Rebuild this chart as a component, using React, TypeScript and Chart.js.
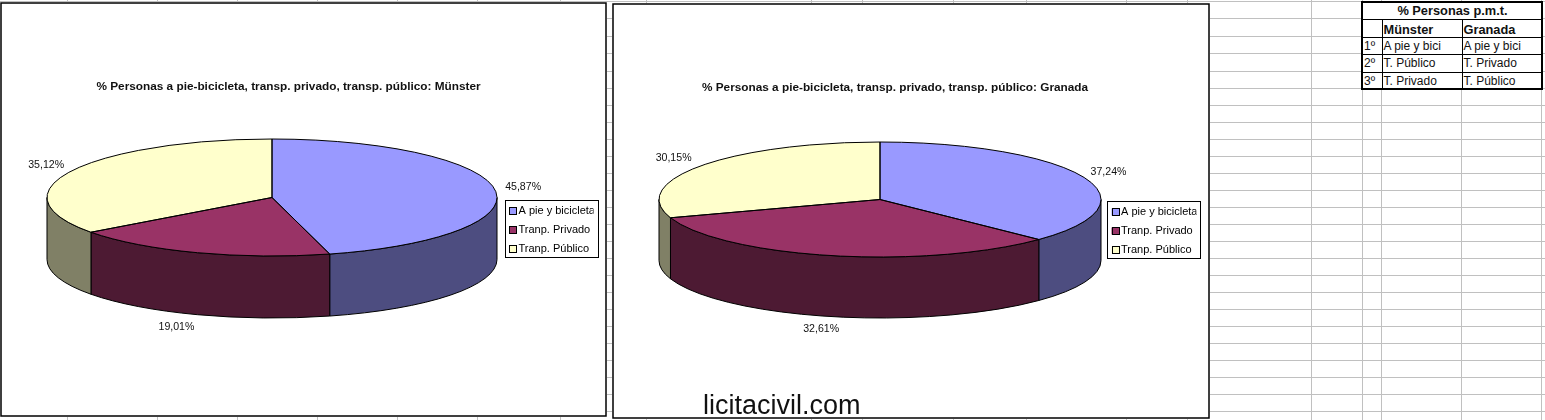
import React, { useEffect, useRef } from "react";
import { Chart, registerables } from "chart.js";

Chart.register(...registerables);

const FONT = '"Liberation Sans", Arial, sans-serif';

const categories = ["A pie y bicicleta", "Tranp. Privado", "Tranp. Público"];
const muensterValues = [45.87, 19.01, 35.12];
const granadaValues = [37.24, 32.61, 30.15];
const topColors = ["#9999FF", "#993366", "#FFFFCC"];
const sideColors = ["#4D4D80", "#4D1A33", "#808066"];

const muensterTitle = "% Personas a pie-bicicleta, transp. privado, transp. público: Münster";
const granadaTitle = "% Personas a pie-bicicleta, transp. privado, transp. público: Granada";

const tableTitle = "% Personas p.m.t.";
const tableCities = ["Münster", "Granada"];
const tableRanks = ["1º", "2º", "3º"];
const tableMuenster = ["A pie y bici", "T. Público", "T. Privado"];
const tableGranada = ["A pie y bici", "T. Privado", "T. Público"];

const watermark = "licitacivil.com";

const gridRows = [1, 18, 36, 53, 71, 88, 105, 122, 139, 156, 173, 190, 207, 224, 241, 258, 275, 292, 309, 326, 343, 360, 377, 394, 411];
const gridCols = [67, 157, 237, 317, 397, 477, 560, 646, 811, 862, 953, 1026, 1126, 1187, 1311, 1362, 1381, 1461, 1541];

type Geometry = {
  frame: { x: number; y: number; w: number; h: number };
  cx: number; cy: number; rx: number; ry: number; depth: number;
  titleCx: number; titleY: number;
  legend: { x: number; y: number; w: number; h: number };
  labelOffsets: [number, number][];
};

const muensterGeometry: Geometry = {
  frame: { x: 0, y: 2, w: 607, h: 415 },
  cx: 272, cy: 197.5, rx: 225, ry: 58.5, depth: 62,
  titleCx: 288.5, titleY: 87,
  legend: { x: 504.5, y: 200, w: 92.5, h: 57 },
  labelOffsets: [[28, -3], [-21, 12], [-25, -6]],
};

const granadaGeometry: Geometry = {
  frame: { x: 612, y: 3, w: 598, h: 416 },
  cx: 880, cy: 199.5, rx: 221, ry: 57.5, depth: 61,
  titleCx: 895, titleY: 88,
  legend: { x: 1107, y: 201, w: 93, h: 57 },
  labelOffsets: [[25, -5], [-10, 12], [-27, -8]],
};

function pie3dPlugin(geo: Geometry) {
  const ox = geo.frame.x;
  const oy = geo.frame.y;
  const cx = geo.cx - ox;
  const cy = geo.cy - oy;
  const boxX = geo.legend.x - ox;
  const boxY = geo.legend.y - oy;
  return {
    id: "pie3d",
    afterLayout(chart: any) {
      const t = chart.titleBlock;
      if (t) {
        const half = geo.titleCx - ox;
        const h = t.height;
        t.left = 0;
        t.right = half * 2;
        t.width = half * 2;
        t.top = geo.titleY - oy - h / 2;
        t.bottom = t.top + h;
      }
      const l = chart.legend;
      if (l) {
        l.left = boxX - 3.5;
        l.right = l.left + geo.legend.w;
        l.width = geo.legend.w;
        l.top = boxY - 2.5;
        l.bottom = l.top + 120;
        l.height = 120;
      }
    },
    beforeDraw(chart: any) {
      const { ctx } = chart;
      ctx.save();
      ctx.fillStyle = "#FFFFFF";
      ctx.fillRect(0, 0, chart.width, chart.height);
      ctx.strokeStyle = "#000000";
      ctx.lineWidth = 1;
      ctx.strokeRect(Math.round(boxX) + 0.5, Math.round(boxY) + 0.5, Math.round(geo.legend.w), Math.round(geo.legend.h));
      ctx.restore();
    },
    beforeDatasetsDraw(chart: any) {
      const { ctx } = chart;
      const arcs = chart.getDatasetMeta(0).data;
      ctx.save();
      ctx.strokeStyle = "#000000";
      ctx.lineWidth = 1;
      arcs.forEach((arc: any, i: number) => {
        const a = Math.max(arc.startAngle, 0);
        const b = Math.min(arc.endAngle, Math.PI);
        if (b <= a) return;
        ctx.beginPath();
        ctx.ellipse(cx, cy, geo.rx, geo.ry, 0, a, b);
        ctx.lineTo(cx + geo.rx * Math.cos(b), cy + geo.ry * Math.sin(b) + geo.depth);
        ctx.ellipse(cx, cy + geo.depth, geo.rx, geo.ry, 0, b, a, true);
        ctx.closePath();
        ctx.fillStyle = sideColors[i];
        ctx.fill();
        ctx.stroke();
      });
      ctx.restore();
      const first = arcs[0];
      ctx.save();
      ctx.translate(cx, cy);
      ctx.scale(geo.rx / first.outerRadius, geo.ry / first.outerRadius);
      ctx.translate(-first.x, -first.y);
    },
    afterDatasetsDraw(chart: any) {
      const { ctx } = chart;
      ctx.restore();
      const arcs = chart.getDatasetMeta(0).data;
      const values = chart.data.datasets[0].data;
      ctx.save();
      ctx.strokeStyle = "#000000";
      ctx.lineWidth = 1;
      arcs.forEach((arc: any) => {
        ctx.beginPath();
        ctx.moveTo(cx, cy);
        ctx.ellipse(cx, cy, geo.rx, geo.ry, 0, arc.startAngle, arc.endAngle);
        ctx.closePath();
        ctx.stroke();
      });
      ctx.fillStyle = "#111111";
      ctx.font = `10.6px ${FONT}`;
      ctx.textAlign = "center";
      ctx.textBaseline = "middle";
      arcs.forEach((arc: any, i: number) => {
        const mid = (arc.startAngle + arc.endAngle) / 2;
        const front = Math.sin(mid) > 0.5;
        const [dx, dy] = geo.labelOffsets[i];
        const x = cx + geo.rx * Math.cos(mid) + dx;
        const y = cy + geo.ry * Math.sin(mid) + (front ? geo.depth : 0) + dy;
        ctx.fillText(values[i].toFixed(2).replace(".", ",") + "%", x, y);
      });
      ctx.restore();
    },
    afterDraw(chart: any) {
      const { ctx } = chart;
      ctx.save();
      ctx.strokeStyle = "#000000";
      ctx.lineWidth = 1;
      categories.forEach((_, i) => {
        const mx = Math.round(boxX + 4.5) + 0.5;
        const my = Math.round(boxY + 7 + 19 * i) + 0.5;
        ctx.fillStyle = topColors[i];
        ctx.fillRect(mx, my, 7, 7);
        ctx.strokeRect(mx, my, 7, 7);
      });
      ctx.lineWidth = 1.5;
      ctx.strokeRect(1, 1, chart.width - 2, chart.height - 2);
      ctx.restore();
    },
  };
}

function PieChart({ values, title, geo }: { values: number[]; title: string; geo: Geometry }) {
  const ref = useRef<HTMLCanvasElement | null>(null);
  useEffect(() => {
    const chart = new Chart(ref.current as HTMLCanvasElement, {
      type: "pie",
      data: {
        labels: categories,
        datasets: [{ data: values, backgroundColor: topColors, borderWidth: 0, clip: false } as any],
      },
      plugins: [pie3dPlugin(geo)],
      options: {
        animation: false,
        responsive: false,
        layout: { padding: 0 },
        plugins: {
          tooltip: { enabled: false },
          title: {
            display: true,
            text: title,
            color: "#111111",
            font: { family: FONT, size: 11.8, weight: "bold" },
            padding: 0,
          },
          legend: {
            position: "right",
            align: "start",
            labels: {
              color: "#111111",
              font: { family: FONT, size: 11 },
              boxWidth: 4,
              boxHeight: 7,
              padding: 8,
              generateLabels: () =>
                categories.map((text, i) => ({
                  text,
                  fillStyle: topColors[i],
                  strokeStyle: "#000000",
                  lineWidth: 0,
                  index: i,
                })),
            },
          },
        },
      } as any,
    });
    return () => chart.destroy();
  }, [values, title, geo]);
  const { x, y, w, h } = geo.frame;
  return (
    <div style={{ position: "absolute", left: x, top: y, width: w, height: h, background: "#FFFFFF" }}>
      <canvas ref={ref} width={w} height={h} style={{ display: "block", width: w, height: h }} />
    </div>
  );
}

function Cell({ text, h, dy = 1, bold = false, center = false, span }: { text?: string; h: number; dy?: number; bold?: boolean; center?: boolean; span?: number }) {
  return (
    <td
      colSpan={span}
      style={{
        border: "1px solid #000000",
        padding: "0 0 0 1px",
        height: h,
        boxSizing: "border-box",
        overflow: "hidden",
        whiteSpace: "nowrap",
        verticalAlign: "top",
        textAlign: center ? "center" : "left",
        fontFamily: FONT,
        fontSize: bold ? 12.8 : 12,
        fontWeight: bold ? "bold" : "normal",
        lineHeight: "15px",
        color: "#111111",
      }}
    >
      <span style={{ position: "relative", top: dy }}>{text}</span>
    </td>
  );
}

function RankTable() {
  const bodyHeights = [17, 18, 17];
  return (
    <table
      style={{
        position: "absolute",
        left: 1361,
        top: 1,
        width: 153,
        tableLayout: "fixed",
        borderCollapse: "collapse",
        border: "2px solid #000000",
        background: "#FFFFFF",
      }}
    >
      <colgroup>
        <col style={{ width: 20 }} />
        <col style={{ width: 80 }} />
        <col style={{ width: 80 }} />
      </colgroup>
      <tbody>
        <tr>
          <Cell span={3} text={tableTitle} h={17} dy={0} bold center />
        </tr>
        <tr>
          <Cell h={18} />
          {tableCities.map((c) => (
            <Cell key={c} text={c} h={18} dy={2} bold />
          ))}
        </tr>
        {tableRanks.map((r, i) => (
          <tr key={r}>
            <Cell text={r} h={bodyHeights[i]} />
            <Cell text={tableMuenster[i]} h={bodyHeights[i]} />
            <Cell text={tableGranada[i]} h={bodyHeights[i]} />
          </tr>
        ))}
      </tbody>
    </table>
  );
}

export default function App() {
  useEffect(() => {
    document.body.style.margin = "0";
  }, []);
  return (
    <div style={{ position: "absolute", left: 0, top: 0, width: 1545, height: 420, overflow: "hidden", background: "#FFFFFF" }}>
      {gridRows.map((y) => (
        <div key={"r" + y} style={{ position: "absolute", left: 0, top: y, width: 1545, height: 1, background: "#C0C0C0" }} />
      ))}
      {gridCols.map((x) => (
        <div key={"c" + x} style={{ position: "absolute", left: x, top: 0, width: 1, height: 420, background: "#C0C0C0" }} />
      ))}
      <PieChart values={muensterValues} title={muensterTitle} geo={muensterGeometry} />
      <PieChart values={granadaValues} title={granadaTitle} geo={granadaGeometry} />
      <RankTable />
      <div
        style={{
          position: "absolute",
          left: 703,
          top: 389,
          fontFamily: FONT,
          fontSize: 27,
          lineHeight: "32px",
          color: "#111111",
          whiteSpace: "nowrap",
        }}
      >
        {watermark}
      </div>
    </div>
  );
}
